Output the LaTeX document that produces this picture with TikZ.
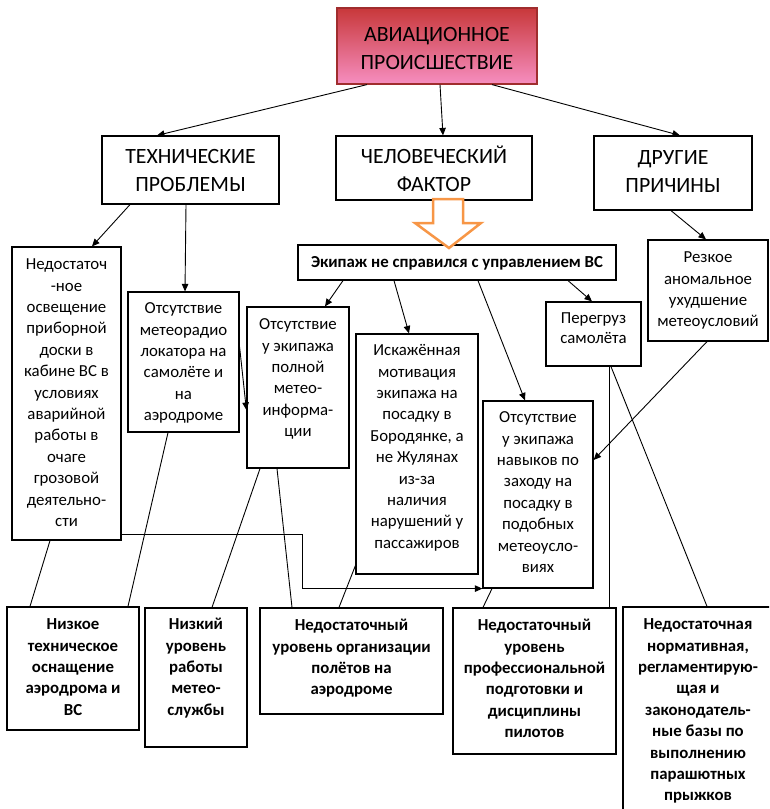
\documentclass[tikz,border=0pt]{standalone}
\usepackage{fontspec}
\setmainfont{Carlito}
\usetikzlibrary{arrows.meta}
\definecolor{redtop}{RGB}{200,56,58}
\definecolor{pinkbot}{RGB}{246,142,192}
\definecolor{orangeA}{RGB}{247,150,70}
\tikzset{
  box/.style={draw, line width=1.2pt, inner sep=0pt},
  txt/.style={font=\fontsize{16.8}{21.4}\selectfont, align=center, inner sep=0pt, anchor=north},
  btxt/.style={font=\fontsize{16.8}{21.4}\selectfont\bfseries, align=center, inner sep=0pt, anchor=north},
  htxt/.style={font=\fontsize{21.8}{28}\selectfont, align=center, inner sep=0pt, anchor=north},
  conn/.style={line width=0.9pt},
  arr/.style={conn, -{Triangle[length=7.5pt,width=6.5pt]}}
}
\newcommand\mkbox[6][]{\node[box,#1, minimum width={(#4)-(#2)}, minimum height={(#6)-(#3)}] (#5) at ({((#2)+(#4))/2},{((#3)+(#6))/2}) {};}
\begin{document}
\begin{tikzpicture}[x=1pt,y=-1pt]
\clip (0,0) rectangle (769,809);
% boxes
\mkbox[top color=redtop, bottom color=pinkbot, draw=redtop!80!black]{337}{8}{537}{top}{84}
\mkbox{102}{136}{279}{tech}{204}
\mkbox{336}{136}{532}{hum}{200}
\mkbox{594}{136}{752}{oth}{210}
\mkbox{298}{245}{616}{ekip}{280}
\mkbox{12}{247}{121}{ned}{540}
\mkbox{128}{292}{239}{radar}{432}
\mkbox{247}{307}{349}{meteo}{468}
\mkbox{356}{334}{478}{iskaz}{574}
\mkbox{483}{401}{593}{navyk}{588}
\mkbox{546}{302}{641}{pereg}{366}
\mkbox{648}{240}{768}{rezk}{341}
\mkbox{7}{607}{139}{bA}{730}
\mkbox{145}{608}{247}{bB}{747}
\mkbox{260}{608}{443}{bC}{714}
\mkbox{453}{608}{616}{bD}{754}
\mkbox{623}{607}{775}{bE}{830}
% texts
\node[htxt] (top-t) at (437,22) {\strut АВИАЦИОННОЕ\\ПРОИСШЕСТВИЕ};
\node[htxt] (tech-t) at (190.5,144) {\strut ТЕХНИЧЕСКИЕ\\ПРОБЛЕМЫ};
\node[htxt] (hum-t) at (434,144) {\strut ЧЕЛОВЕЧЕСКИЙ\\ФАКТОР};
\node[htxt] (oth-t) at (673,145) {\strut ДРУГИЕ\\ПРИЧИНЫ};
\node[btxt] (ekip-t) at (457,252.5) {\strut Экипаж не справился с управлением ВС};
\node[txt] (ned-t) at (66.5,254.5) {\strut Недостаточ\\-ное\\освещение\\приборной\\доски в\\кабине ВС в\\условиях\\аварийной\\работы в\\очаге\\грозовой\\деятельно-\\сти};
\node[txt] (radar-t) at (183.5,298.5) {\strut Отсутствие\\метеорадио\\локатора на\\самолёте и\\на\\аэродроме};
\node[txt] (meteo-t) at (298,314.5) {\strut Отсутствие\\у экипажа\\полной\\метео-\\информа-\\ции};
\node[txt] (iskaz-t) at (417,340.5) {\strut Искажённая\\мотивация\\экипажа на\\посадку в\\Бородянке, а\\не Жулянах\\из-за\\наличия\\нарушений у\\пассажиров};
\node[txt] (navyk-t) at (538,407.5) {\strut Отсутствие\\у экипажа\\навыков по\\заходу на\\посадку в\\подобных\\метеоусло-\\виях};
\node[txt, font=\fontsize{16.8}{20.5}\selectfont] (pereg-t) at (593.5,308.5) {\strut Перегруз\\самолёта};
\node[txt] (rezk-t) at (708,247.5) {\strut Резкое\\аномальное\\ухудшение\\метеоусловий};
\node[btxt] (bA-t) at (73,614.5) {\strut Низкое\\техническое\\оснащение\\аэродрома и\\ВС};
\node[btxt] (bB-t) at (196,614.5) {\strut Низкий\\уровень\\работы\\метео-\\службы};
\node[btxt] (bC-t) at (351.5,615.5) {\strut Недостаточный\\уровень организации\\полётов на\\аэродроме};
\node[btxt] (bD-t) at (534.5,615.5) {\strut Недостаточный\\уровень\\профессиональной\\подготовки и\\дисциплины\\пилотов};
\node[btxt] (bE-t) at (698,614.5) {\strut Недостаточная\\нормативная,\\регламентирую-\\щая и\\законодатель-\\ные базы по\\выполнению\\парашютных\\прыжков};
% arrows
\draw[arr] ([xshift=-70pt]top.south) -- ([xshift=-33.5pt]tech.north);
\draw[arr] ([xshift=3pt]top.south) -- ([xshift=9pt]hum.north);
\draw[arr] ([xshift=55pt]top.south) -- ([xshift=7pt]oth.north);
\draw[arr] ([xshift=-60.5pt]tech.south) -- ([xshift=25.5pt]ned.north);
\draw[arr] ([xshift=-4.5pt]tech.south) -- ([xshift=1.5pt]radar.north);
\draw[arr] ([xshift=-2pt]oth.south) -- ([xshift=-2pt]rezk.north);
\draw[arr] ([xshift=-114pt]ekip.south) -- ([xshift=27pt]meteo.north);
\draw[arr] ([xshift=-63pt]ekip.south) -- ([xshift=-8pt]iskaz.north);
\draw[arr] ([xshift=21pt]ekip.south) -- ([xshift=-13pt]navyk.north);
\draw[arr] ([xshift=111pt]ekip.south) -- ([xshift=-1.5pt]pereg.north);
\draw[arr] ([xshift=-1pt]rezk.south) -- ([yshift=34.5pt]navyk.east);
\draw[arr] ([yshift=15pt]radar.east) -- ([yshift=-22.5pt]meteo.west);
\draw[arr] ([yshift=6pt]ned.south east) -- ++(181,0) |- (navyk.south west);
% plain lines
\draw[conn] ([xshift=-16.5pt]ned.south) -- ([xshift=-43pt]bA.north);
\draw[conn] ([xshift=-15.5pt]radar.south) -- ([xshift=55pt]bA.north);
\draw[conn] ([xshift=-38pt]meteo.south) -- ([xshift=16pt]bB.north);
\draw[conn] ([xshift=-21pt]meteo.south) -- ([xshift=-59.5pt]bC.north);
\draw[conn] ([yshift=9pt]iskaz.south west) -- ([xshift=-12.5pt]bC.north);
\draw[conn] ([xshift=-46pt]navyk.south) -- ([xshift=-51.5pt]bD.north);
\draw[conn] ([xshift=15.5pt]pereg.south) -- ([xshift=15.5pt]pereg.south |- bD.north);
\draw[conn] ([xshift=17.5pt]pereg.south) -- ([xshift=8pt]bE.north);
% hollow orange arrow
\draw[orangeA, line width=2.5pt, fill=white, line join=miter]
  (433,199) -- (433,223) -- (415,223) -- (449,248) -- (481,223) -- (463,223) -- (463,199) -- cycle;
\end{tikzpicture}
\end{document}
